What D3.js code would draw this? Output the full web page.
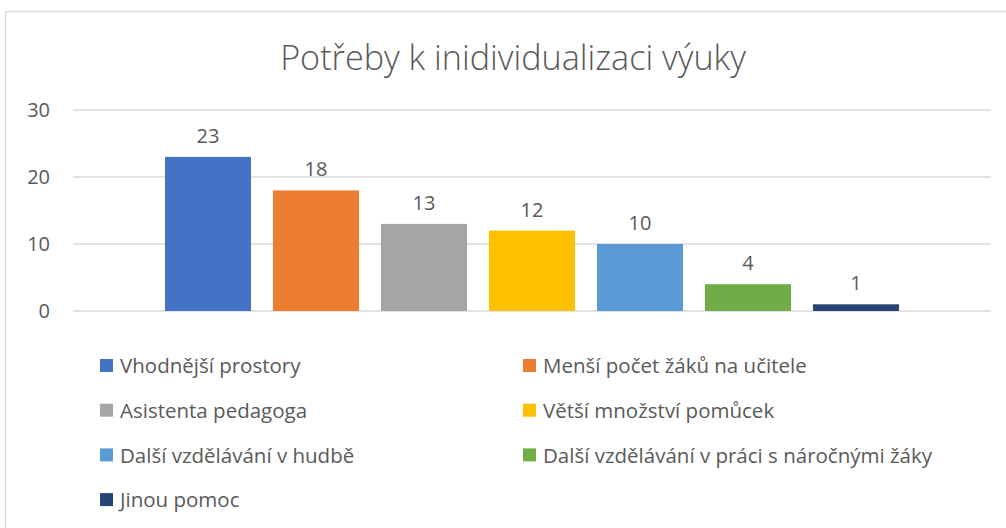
<!DOCTYPE html>
<html>
<head>
<meta charset="utf-8">
<script src="https://cdn.jsdelivr.net/npm/d3@7"></script>
<style>
  body { margin: 0; background: #fff; }
  text { font-family: "Open Sans", sans-serif; fill: #595959; }
</style>
</head>
<body>
<svg id="chart" width="1006" height="528"></svg>
<script>
const title = 'Potřeby k inidividualizaci výuky'
const series = [
  'Vhodnější prostory',
  'Menší počet žáků na učitele',
  'Asistenta pedagoga',
  'Větší množství pomůcek',
  'Další vzdělávání v hudbě',
  'Další vzdělávání v práci s náročnými žáky',
  'Jinou pomoc'
]
const values = [23, 18, 13, 12, 10, 4, 1]
const colors = ['#4472C4', '#ED7D31', '#A5A5A5', '#FFC000', '#5B9BD5', '#70AD47', '#264478']
const yTicks = [0, 10, 20, 30]

const width = 1006, height = 528
const svg = d3.select('#chart')

// chart frame
svg.append('rect')
  .attr('x', 5.5).attr('y', 11.5)
  .attr('width', 1010).attr('height', 530)
  .attr('fill', 'none')
  .attr('stroke', '#d9d9d9')
  .attr('stroke-width', 1.5)

svg.append('text')
  .text(title)
  .attr('x', 513).attr('y', 70)
  .attr('text-anchor', 'middle')
  .attr('font-size', 34.2)
  .attr('font-weight', 300)

const plot = {left: 73, right: 991, top: 110, bottom: 311}

const y = d3.scaleLinear()
  .domain([0, 30])
  .range([plot.bottom, plot.top])

// one category, seven series side by side
const x = d3.scaleBand()
  .domain(series)
  .range([154, 910])
  .paddingInner(0.2037)
  .paddingOuter(0.1018)

const g = svg.append('g')

g.append('g')
  .selectAll('line')
  .data(yTicks)
  .join('line')
  .attr('x1', plot.left).attr('x2', plot.right)
  .attr('y1', d => y(d)).attr('y2', d => y(d))
  .attr('stroke', '#d9d9d9')
  .attr('stroke-width', 1.5)

g.append('g')
  .selectAll('text')
  .data(yTicks)
  .join('text')
  .text(d => d)
  .attr('x', 50)
  .attr('y', d => y(d))
  .attr('dy', '0.36em')
  .attr('text-anchor', 'end')
  .attr('font-size', 20)

g.append('g')
  .selectAll('text')
  .data(values)
  .join('text')
  .text(d => d)
  .attr('x', (d, i) => x(series[i]) + x.bandwidth() / 2)
  .attr('y', d => y(d) - 14)
  .attr('text-anchor', 'middle')
  .attr('font-size', 20)

g.append('g')
  .selectAll('rect')
  .data(values)
  .join('rect')
  .attr('x', (d, i) => x(series[i]))
  .attr('width', x.bandwidth())
  .attr('y', d => y(d))
  .attr('height', d => y(0) - y(d))
  .attr('fill', (d, i) => colors[i])

// legend, two columns
const legend = svg.append('g')
  .selectAll('g')
  .data(series)
  .join('g')
  .attr('transform', (d, i) => `translate(${i % 2 === 0 ? 100 : 523},${366 + Math.floor(i / 2) * 44.7})`)

legend.append('rect')
  .attr('x', 0).attr('y', -7)
  .attr('width', 13).attr('height', 13)
  .attr('fill', (d, i) => colors[i])

legend.append('text')
  .text(d => d)
  .attr('x', 20)
  .attr('dy', '0.36em')
  .attr('font-size', 20.5)
</script>
</body>
</html>
